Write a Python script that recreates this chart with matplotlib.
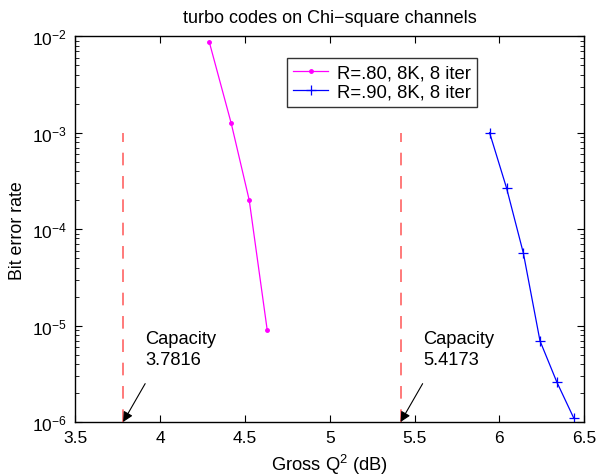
import numpy as np
import matplotlib
matplotlib.use("Agg")
import matplotlib.pyplot as plt

plt.rcParams['font.family'] = ['Liberation Sans', 'DejaVu Sans']
plt.rcParams['mathtext.fontset'] = 'custom'
plt.rcParams['mathtext.rm'] = 'Liberation Sans'
plt.rcParams['mathtext.it'] = 'Liberation Sans'
plt.rcParams['mathtext.default'] = 'regular'

# R=.80 curve
q_r80 = [4.289, 4.419, 4.525, 4.631]
ber_r80 = [8.8e-3, 1.25e-3, 2.0e-4, 9.0e-6]

# R=.90 curve
q_r90 = [5.942, 6.042, 6.141, 6.239, 6.339, 6.438]
ber_r90 = [1.0e-3, 2.67e-4, 5.65e-5, 6.95e-6, 2.58e-6, 1.1e-6]

# capacity limits
capacity = [3.7816, 5.4173]
cap_ber_top = 1e-3
cap_ber_bottom = 1e-6

legend_labels = ['R=.80, 8K, 8 iter', 'R=.90, 8K, 8 iter']

fig = plt.figure(figsize=(5.98, 4.77), dpi=100)
ax = fig.add_axes([0.126, 0.1132, 0.851, 0.8086])

ax.semilogy(q_r80, ber_r80, '-', color='#ff00ff', lw=0.9,
            marker='.', markersize=5, label=legend_labels[0])
ax.semilogy(q_r90, ber_r90, '-', color='#0000ff', lw=0.9,
            marker='+', markersize=7, markeredgewidth=0.9, label=legend_labels[1])

for c in capacity:
    ax.plot([c, c], [cap_ber_bottom, cap_ber_top], color='#ff7a7a', lw=1.4,
            dashes=(6.5, 5.5))
    ax.annotate('', xy=(c, cap_ber_bottom), xytext=(c + 0.13, 2.5e-6),
                arrowprops=dict(arrowstyle='-|>', color='k', lw=0.8,
                                mutation_scale=15, shrinkA=0, shrinkB=0))
    ax.text(c + 0.132, 5.7e-6, 'Capacity\n%.4f' % c, fontsize=13.2,
            va='center', ha='left', linespacing=1.35)

ax.set_xlim(3.5, 6.5)
ax.set_ylim(1e-6, 1e-2)
ax.set_xticks(np.arange(3.5, 6.51, 0.5))
ax.set_xticklabels(['3.5', '4', '4.5', '5', '5.5', '6', '6.5'])

ax.tick_params(which='both', direction='in', top=True, right=True,
               labelsize=12.5)
ax.tick_params(which='major', length=5, width=0.8, pad=6)
ax.tick_params(which='minor', length=3, width=0.6)
ax.tick_params(axis='x', which='minor', bottom=False, top=False)
for s in ax.spines.values():
    s.set_linewidth(1.0)

ax.set_xlabel('Gross Q$^2$ (dB)', fontsize=13.2, labelpad=5)
ax.set_ylabel('Bit error rate', fontsize=12.8, labelpad=4)
ax.set_title('turbo codes on Chi\u2212square channels', fontsize=13, pad=10)

leg = ax.legend(loc='upper left', bbox_to_anchor=(0.4153, 0.9445), fontsize=13.3,
                frameon=True, fancybox=False, edgecolor='k',
                borderpad=0.35, handlelength=1.9, labelspacing=0.15,
                handletextpad=0.45, borderaxespad=0)
leg.get_frame().set_linewidth(1.0)

fig.savefig('out.png', dpi=100)
